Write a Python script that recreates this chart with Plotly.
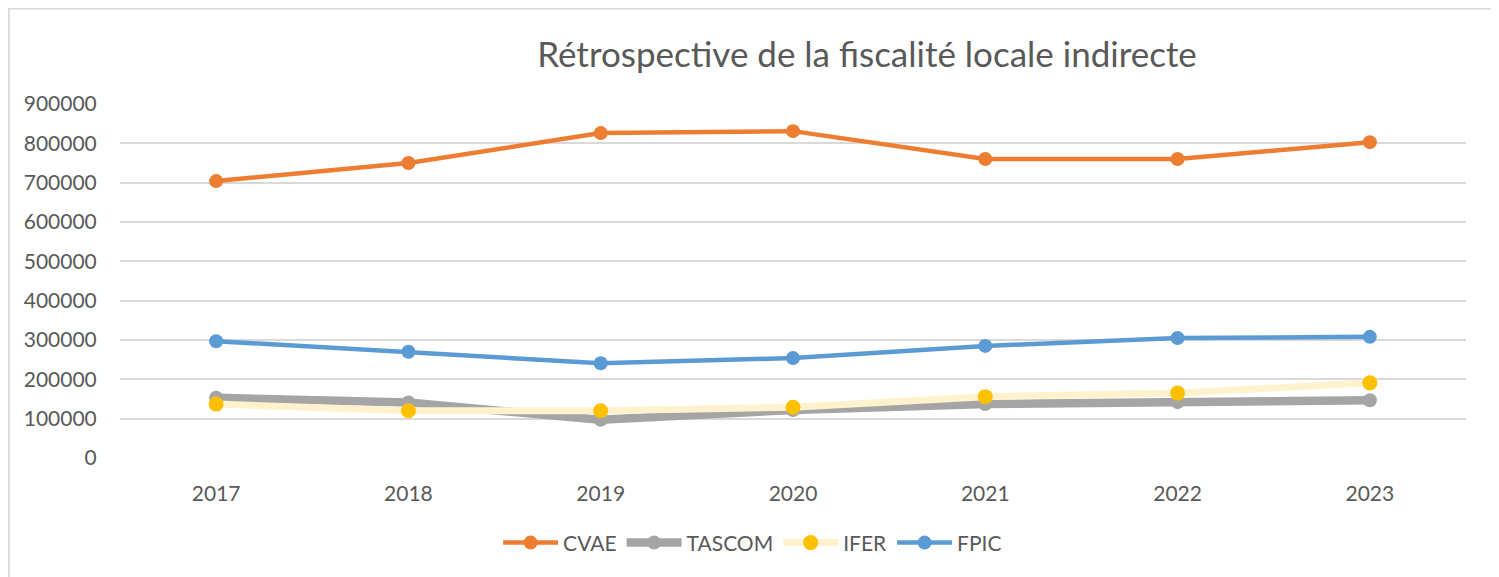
import plotly.graph_objects as go

years = ["2017", "2018", "2019", "2020", "2021", "2022", "2023"]
cvae = [704000, 750000, 826000, 831000, 760000, 760000, 803000]
tascom = [153000, 141000, 97000, 122000, 137000, 142000, 147000]
ifer = [137000, 120000, 120000, 129000, 156000, 165000, 191000]
fpic = [297000, 270000, 241000, 254000, 285000, 305000, 308000]
y_ticks = [0, 100000, 200000, 300000, 400000, 500000, 600000, 700000, 800000, 900000]

FONT = "Lato, 'Open Sans', sans-serif"
TXT = "#595959"

fig = go.Figure()
fig.add_trace(go.Scatter(x=years, y=cvae, name="CVAE", mode="lines+markers",
                         line=dict(color="#ED7D31", width=4.5),
                         marker=dict(color="#ED7D31", size=14)))
fig.add_trace(go.Scatter(x=years, y=tascom, name="TASCOM", mode="lines+markers",
                         line=dict(color="#A5A5A5", width=8.5),
                         marker=dict(color="#A5A5A5", size=14)))
fig.add_trace(go.Scatter(x=years, y=ifer, name="IFER", mode="lines+markers",
                         line=dict(color="#FFF2CC", width=7),
                         marker=dict(color="#FFC000", size=15)))
fig.add_trace(go.Scatter(x=years, y=fpic, name="FPIC", mode="lines+markers",
                         line=dict(color="#5B9BD5", width=4.5),
                         marker=dict(color="#5B9BD5", size=14)))

fig.update_layout(
    width=1491, height=569,
    margin=dict(l=112, r=33, t=96, b=119),
    paper_bgcolor="white", plot_bgcolor="white",
    font=dict(family=FONT, color=TXT, size=21),
    title=dict(text="Rétrospective de la fiscalité locale indirecte",
               x=0.555, xanchor="center", xref="paper", y=0.917, yanchor="middle",
               font=dict(size=35, color=TXT, family=FONT)),
    showlegend=True,
    legend=dict(orientation="h", x=0.47, xanchor="center", y=-0.24, yanchor="middle",
                font=dict(size=21, color=TXT), itemwidth=55, traceorder="normal"),
    xaxis=dict(type="category", range=[-0.5, 6.5], showgrid=False, zeroline=False,
               showline=False, ticks="outside", ticklen=17, tickcolor="rgba(0,0,0,0)",
               tickfont=dict(size=21, color=TXT)),
    yaxis=dict(range=[0, 900000], tickvals=y_ticks, ticktext=[str(v) for v in y_ticks],
               showgrid=True, gridcolor="#D9D9D9", gridwidth=1.5, zeroline=False,
               showline=False, ticks="outside", ticklen=18, tickcolor="rgba(0,0,0,0)",
               tickfont=dict(size=21, color=TXT)),
)

fig.add_shape(type="rect", xref="paper", yref="paper",
              x0=-0.0826, x1=1.0201, y0=-0.35, y1=1.27,
              line=dict(color="#D9D9D9", width=2), fillcolor="rgba(0,0,0,0)", layer="below")

fig.write_html("out.html")
